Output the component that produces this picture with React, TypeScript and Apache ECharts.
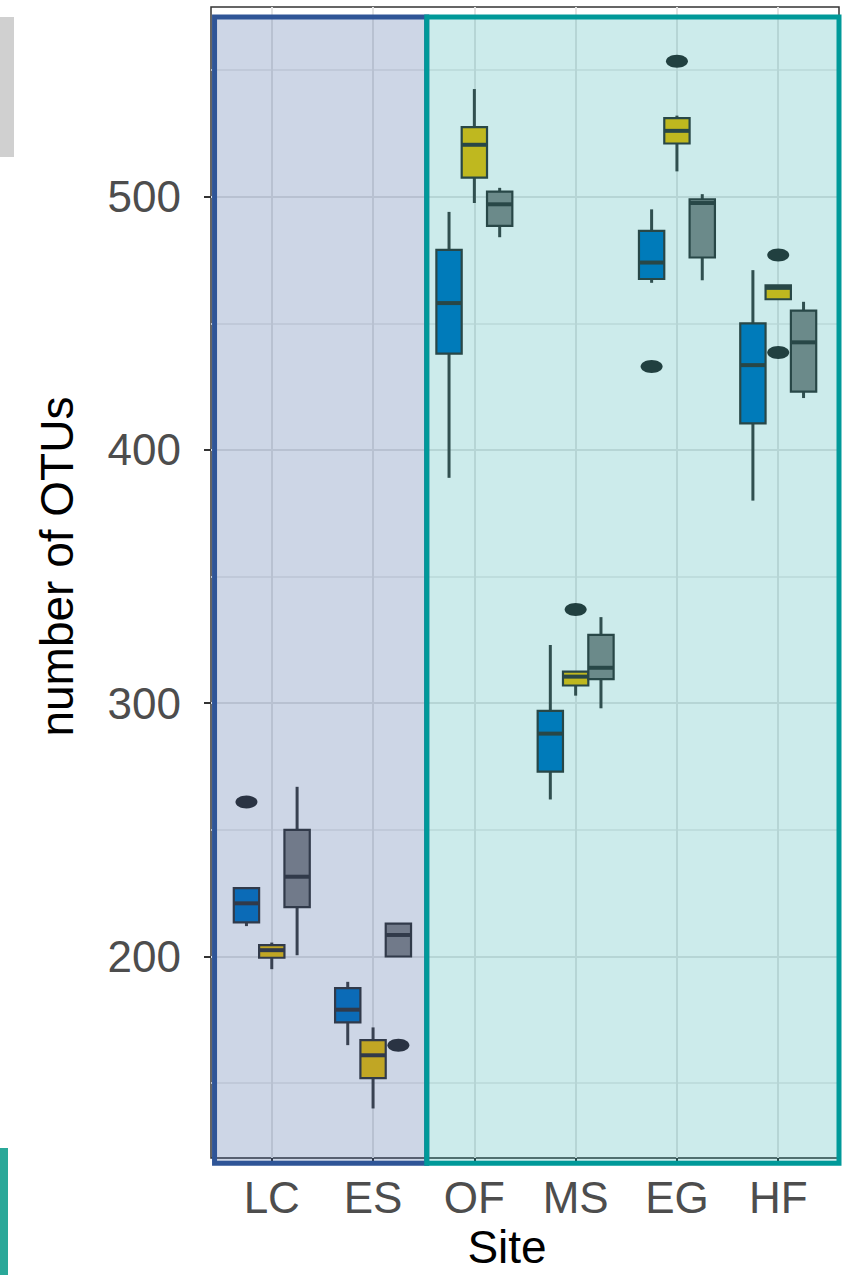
import React, { useEffect, useRef } from "react";
import * as echarts from "echarts";

// Sites along the x axis (positions 1..6)
const sites = ["LC", "ES", "OF", "MS", "EG", "HF"];
const yTicks = [200, 300, 400, 500];
const yMinorTicks = [150, 250, 350, 450, 550];

// Per-site box summaries: [lower whisker, Q1, median, Q3, upper whisker]
const blueStats = [
  [212, 213.5, 221, 227, 227],
  [165, 174, 179, 187.5, 190],
  [389, 438, 458, 479, 494],
  [262, 273, 288, 297, 323],
  [466, 467.5, 474, 486.5, 495],
  [380, 410.5, 433.5, 450, 471],
];
const yellowStats = [
  [195, 199.5, 202.5, 204.5, 205.5],
  [140, 152, 161, 167, 172],
  [497.5, 507.5, 520.5, 527.5, 542.5],
  [303, 307, 310.5, 312.5, 312.5],
  [510, 521, 526, 531, 532],
  [459.5, 459.5, 464, 465, 465],
];
const grayStats = [
  [200.5, 219.5, 231.5, 250, 267],
  [200, 200, 208.5, 213, 213],
  [484, 488.5, 497, 502, 503.5],
  [298, 309.5, 314, 327, 334],
  [467, 476, 497.5, 499, 501],
  [420.5, 423, 442.5, 455, 458.5],
];

// Outlying samples: [site, number of OTUs]
const blueOutliers: [string, number][] = [["LC", 261], ["EG", 433]];
const yellowOutliers: [string, number][] = [
  ["MS", 337],
  ["EG", 553.5],
  ["HF", 477],
  ["HF", 438.5],
];
const grayOutliers: [string, number][] = [["ES", 165]];

// Shaded site groups: [x from, x to, y from, y to]
const panelRanges = [
  [0.435, 2.53, 118.4, 571],
  [2.53, 6.6, 118.4, 571],
];
const panelColors = [
  { fill: "rgba(47,85,151,0.24)", stroke: "#2f5597" },
  { fill: "rgba(0,153,153,0.2)", stroke: "#009999" },
];

const Y_MIN = 120.4;
const Y_MAX = 574.9;
const DODGE = 0.25;
const HALF_BOX = 0.125;
const LINE_COLOR = "#333333";
const FONT = "'Liberation Sans', Arial, sans-serif";

const groups = [
  { name: "blue", stats: blueStats, outliers: blueOutliers, offset: -DODGE, fill: "#0073C2" },
  { name: "yellow", stats: yellowStats, outliers: yellowOutliers, offset: 0, fill: "#EFC000" },
  { name: "gray", stats: grayStats, outliers: grayOutliers, offset: DODGE, fill: "#868686" },
];

function boxSeries(g: (typeof groups)[number]) {
  return {
    type: "custom",
    name: g.name,
    z: 2,
    data: g.stats.map((s, i) => [i + 1 + g.offset, ...s]),
    renderItem: (_params: any, api: any) => {
      const x = api.value(0);
      const lo = api.value(1);
      const q1 = api.value(2);
      const med = api.value(3);
      const q3 = api.value(4);
      const hi = api.value(5);
      const tl = api.coord([x - HALF_BOX, q3]);
      const br = api.coord([x + HALF_BOX, q1]);
      const m1 = api.coord([x - HALF_BOX, med]);
      const m2 = api.coord([x + HALF_BOX, med]);
      const top = api.coord([x, hi]);
      const bot = api.coord([x, lo]);
      const cx = api.coord([x, med])[0];
      const whisker = { stroke: "#3c3c3c", lineWidth: 3 };
      return {
        type: "group",
        children: [
          { type: "line", shape: { x1: cx, y1: top[1], x2: cx, y2: tl[1] }, style: whisker },
          { type: "line", shape: { x1: cx, y1: br[1], x2: cx, y2: bot[1] }, style: whisker },
          {
            type: "rect",
            shape: { x: tl[0], y: tl[1], width: br[0] - tl[0], height: br[1] - tl[1] },
            style: { fill: g.fill, stroke: LINE_COLOR, lineWidth: 2.2 },
          },
          {
            type: "line",
            shape: { x1: m1[0], y1: m1[1], x2: m2[0], y2: m2[1] },
            style: { stroke: LINE_COLOR, lineWidth: 4 },
          },
        ],
      };
    },
  };
}

function outlierSeries(g: (typeof groups)[number]) {
  return {
    type: "custom",
    name: g.name + " outliers",
    z: 3,
    data: g.outliers.map(([site, v]) => [sites.indexOf(site) + 1 + g.offset, v]),
    renderItem: (_params: any, api: any) => {
      const p = api.coord([api.value(0), api.value(1)]);
      return {
        type: "ellipse",
        shape: { cx: p[0], cy: p[1], rx: 11, ry: 6.5 },
        style: { fill: "#2a2a2a" },
      };
    },
  };
}

const panelSeries = {
  type: "custom",
  name: "site groups",
  z: 10,
  silent: true,
  data: panelRanges.map((r, i) => [...r, i]),
  renderItem: (_params: any, api: any) => {
    const a = api.coord([api.value(0), api.value(3)]);
    const b = api.coord([api.value(1), api.value(2)]);
    const c = panelColors[api.value(4)];
    return {
      type: "rect",
      shape: { x: a[0], y: a[1], width: b[0] - a[0], height: b[1] - a[1] },
      style: { fill: c.fill, stroke: c.stroke, lineWidth: 5 },
    };
  },
};

export default function App() {
  const ref = useRef<HTMLDivElement>(null);

  useEffect(() => {
    document.body.style.margin = "0";
    if (!ref.current) return;
    const chart = echarts.init(ref.current, null, { renderer: "svg" });
    const siteTicks = sites.map((_, i) => i + 1);
    chart.setOption({
      animation: false,
      backgroundColor: "#ffffff",
      grid: {
        left: 211,
        right: 7,
        top: 7,
        bottom: 109,
        show: true,
        backgroundColor: "#ffffff",
        borderColor: "#333333",
        borderWidth: 1.5,
      },
      xAxis: {
        type: "value",
        min: 0.4,
        max: 6.6,
        axisLine: { show: false },
        axisTick: {
          show: true,
          customValues: siteTicks,
          length: 7,
          lineStyle: { color: "#333333", width: 2 },
        },
        axisLabel: {
          customValues: siteTicks,
          formatter: (v: number) => sites[Math.round(v) - 1] ?? "",
          fontSize: 44,
          fontFamily: FONT,
          color: "#4d4d4d",
          margin: 17,
        },
        splitLine: { show: true, lineStyle: { color: "#e4e4e4", width: 2 } },
        name: "Site",
        nameLocation: "middle",
        nameGap: 64,
        nameTextStyle: { fontSize: 46, fontFamily: FONT, color: "#000000", padding: [0, 36, 0, 0] },
      },
      yAxis: [
        {
          type: "value",
          min: Y_MIN,
          max: Y_MAX,
          axisLine: { show: false },
          axisTick: {
            show: true,
            customValues: yTicks,
            length: 7,
            lineStyle: { color: "#333333", width: 2 },
          },
          axisLabel: {
            customValues: yTicks,
            fontSize: 44,
            fontFamily: FONT,
            color: "#4d4d4d",
            margin: 30,
          },
          splitLine: { show: true, lineStyle: { color: "#e4e4e4", width: 2 } },
          name: "number of OTUs",
          nameLocation: "middle",
          nameGap: 131,
          nameTextStyle: { fontSize: 46, fontFamily: FONT, color: "#000000", padding: [0, 0, 0, 32] },
        },
        {
          type: "value",
          min: Y_MIN,
          max: Y_MAX,
          position: "left",
          axisLine: { show: false },
          axisTick: { show: false, customValues: yMinorTicks },
          axisLabel: { show: false, customValues: yMinorTicks },
          splitLine: { show: true, lineStyle: { color: "#e9e9e9", width: 1.5 } },
        },
      ],
      graphic: [
        {
          type: "rect",
          shape: { x: 0, y: 17, width: 14, height: 140 },
          style: { fill: "#d0d0d0" },
        },
        {
          type: "rect",
          shape: { x: 0, y: 1148, width: 8, height: 127 },
          style: { fill: "#2aa899" },
        },
      ],
      series: [
        ...groups.map(boxSeries),
        ...groups.map(outlierSeries),
        panelSeries,
      ],
    });
    return () => chart.dispose();
  }, []);

  return <div ref={ref} style={{ width: 846, height: 1275 }} />;
}
